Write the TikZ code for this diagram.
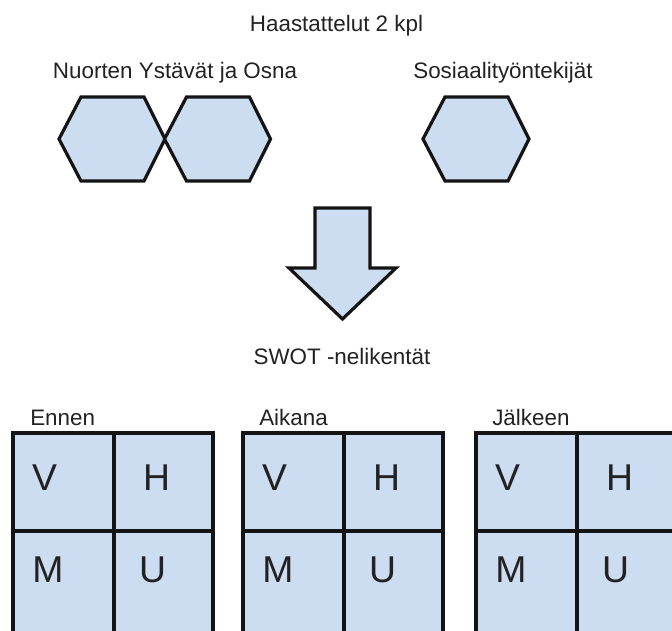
\documentclass[tikz,border=0pt]{standalone}
\usepackage{fontspec}
\setmainfont{Liberation Sans}
\definecolor{boxblue}{RGB}{204,221,241}
\definecolor{edge}{RGB}{20,20,20}
\definecolor{ink}{RGB}{34,34,34}
\begin{document}
\begin{tikzpicture}[x=0.75pt,y=-0.75pt,
  shapefill/.style={fill=boxblue, draw=edge, line width=2.4pt, line join=miter},
  gridline/.style={draw=edge, line width=2.3pt},
  title/.style={font=\fontsize{16.8}{20}\selectfont, text=ink, anchor=base, inner sep=0pt},
  gridlabel/.style={title, anchor=base west},
  letter/.style={font=\fontsize{28}{32}\selectfont, text=ink, anchor=base, inner sep=0pt},
  hexagon/.pic={\draw[shapefill] (-53,0) -- (-31,-42) -- (32,-42) -- (53,0) -- (32,42) -- (-31,42) -- cycle;},
  swotgrid/.pic={
    \fill[boxblue] (0,0) rectangle (200,199);
    \draw[gridline] (0,199) -- (0,0) -- (200,0) -- (200,199);
    \draw[gridline] (101,0) -- (101,199);
    \draw[gridline] (0,98) -- (200,98);
    \node[letter] (-v) at (31.5,57) {V};
    \node[letter] (-h) at (143.5,57) {H};
    \node[letter] (-m) at (35,149) {M};
    \node[letter] (-u) at (139.5,149) {U};
  }
]
\useasboundingbox (0,0) rectangle (672,631);

% headings
\node[title] (haast) at (336.5,32) {Haastattelut 2 kpl};
\node[title] (nuoret) at (175,79) {Nuorten Ystävät ja Osna};
\node[title] (sosiaali) at (503,79) {Sosiaalityöntekijät};

% interview groups
\pic at (112,139) {hexagon};
\pic at (217.5,139) {hexagon};
\pic at (476,139) {hexagon};

% block arrow pointing down
\draw[shapefill] (315,208) -- (370,208) -- (370,268) -- (396,268) -- (342.5,319)
  -- (289,268) -- (315,268) -- cycle;

\node[title] (swot) at (342,364) {SWOT -nelikentät};

% the three SWOT grids
\pic (ennen) at (13,433) {swotgrid};
\pic (aikana) at (243,433) {swotgrid};
\pic (jalkeen) at (476,433) {swotgrid};

\node[gridlabel] (lennen) at (30,426) {Ennen};
\node[gridlabel] (laikana) at (259,426) {Aikana};
\node[gridlabel] (ljalkeen) at (492,426) {Jälkeen};
\end{tikzpicture}
\end{document}
